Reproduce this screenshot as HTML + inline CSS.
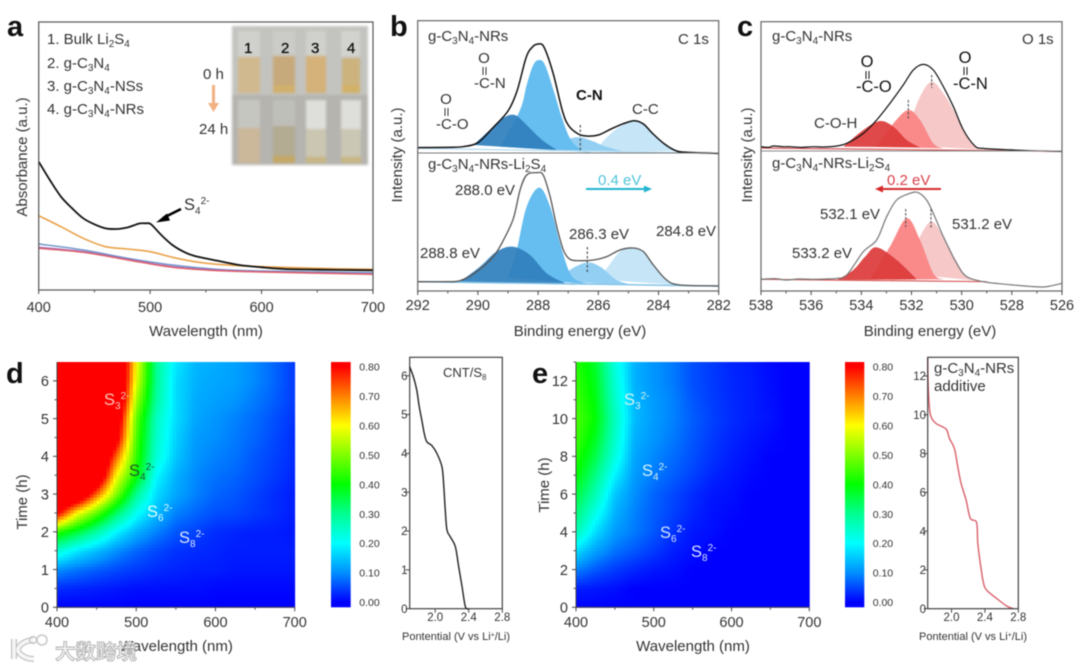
<!DOCTYPE html>
<html lang="en">
<head>
<meta charset="utf-8">
<title>Spectroscopy figure</title>
<style>
html,body{margin:0;padding:0;background:#fff;width:1080px;height:668px;overflow:hidden}
svg{display:block;filter:blur(.45px)}
text{font-family:"Liberation Sans",sans-serif;fill:#333}
.l{font-size:15px}
.t{font-size:15px}
.bold{font-size:29px;font-weight:bold;fill:#111}
.s{font-size:10px}
.h{font-size:16.5px}
</style>
</head>
<body>
<svg id="fig" xmlns="http://www.w3.org/2000/svg" width="1080" height="668" viewBox="0 0 1080 668">
<rect width="1080" height="668" fill="#fff"/>

<g id="pa"></g>
<g id="pb"></g>
<g id="pc"></g>
<g id="pd"></g>
<g id="pe"></g>

<g style="filter:blur(1.2px)">
<rect x="232" y="26" width="136" height="69" fill="#c3c3bf"/>
<rect x="232" y="95" width="136" height="70" fill="#b5b4af"/>
<rect x="238" y="31" width="22" height="26" fill="#d0d0cc"/><rect x="273" y="31" width="22" height="26" fill="#cbcbc7"/><rect x="306" y="31" width="20" height="26" fill="#d0d0cc"/><rect x="341" y="31" width="19" height="26" fill="#d2d2ce"/>
<rect x="238" y="57" width="22" height="36" fill="#d1b98f"/>
<rect x="273" y="56" width="22" height="37" fill="#c7aa7c"/>
<rect x="306" y="56" width="20" height="37" fill="#d4b27a"/>
<rect x="342" y="58" width="18" height="35" fill="#ccb37e"/>
<rect x="273" y="85" width="22" height="8" fill="#d0b06c"/><rect x="342" y="85" width="18" height="8" fill="#d2b268"/>
<rect x="238" y="100" width="22" height="28" fill="#c6c6c0"/><rect x="273" y="100" width="22" height="26" fill="#bfbfb9"/><rect x="306" y="100" width="20" height="29" fill="#dededa"/><rect x="341" y="100" width="20" height="29" fill="#dededa"/>
<rect x="238" y="128" width="22" height="35" fill="#cbb79a"/>
<rect x="273" y="126" width="22" height="37" fill="#b3ab92"/>
<rect x="273" y="156" width="22" height="7" fill="#c4a866"/>
<rect x="306" y="129" width="20" height="34" fill="#cac6b2"/>
<rect x="306" y="157" width="20" height="6" fill="#c8b684"/>
<rect x="341" y="129" width="20" height="34" fill="#cac7b4"/>
<rect x="341" y="157" width="20" height="6" fill="#c8b684"/>
</g>
<g>
<text x="244" y="53" style="font-size:15px;fill:#111;stroke:#111;stroke-width:.3">1</text>
<text x="281" y="53" style="font-size:15px;fill:#111;stroke:#111;stroke-width:.3">2</text>
<text x="311" y="53" style="font-size:15px;fill:#111;stroke:#111;stroke-width:.3">3</text>
<text x="347" y="53" style="font-size:15px;fill:#111;stroke:#111;stroke-width:.3">4</text>
</g>

<!-- panel letters -->
<text class="bold" x="7" y="36">a</text>
<text class="bold" x="390" y="36">b</text>
<text class="bold" x="737" y="36">c</text>
<text class="bold" x="6" y="383">d</text>
<text class="bold" x="532" y="383">e</text>

<!-- panel a annotations -->
<g>
<text class="l" x="47" y="44">1. Bulk Li<tspan class="s" dy="3">2</tspan><tspan dy="-3">S</tspan><tspan class="s" dy="3">4</tspan></text>
<text class="l" x="47" y="68">2. g-C<tspan class="s" dy="3">3</tspan><tspan dy="-3">N</tspan><tspan class="s" dy="3">4</tspan></text>
<text class="l" x="47" y="91">3. g-C<tspan class="s" dy="3">3</tspan><tspan dy="-3">N</tspan><tspan class="s" dy="3">4</tspan><tspan dy="-3">-NSs</tspan></text>
<text class="l" x="47" y="114">4. g-C<tspan class="s" dy="3">3</tspan><tspan dy="-3">N</tspan><tspan class="s" dy="3">4</tspan><tspan dy="-3">-NRs</tspan></text>
</g>
<text class="l" x="203" y="79">0 h</text>
<text class="l" x="199" y="134">24 h</text>
<path d="M212 85h3v18h4l-5.5 9-5.5-9h4z" fill="#f2b183"/>
<text class="h" x="184" y="210">S<tspan class="s" dy="4">4</tspan><tspan class="s" dy="-10">2-</tspan></text>
<path d="M181 209L163 218" stroke="#000" stroke-width="2.6" fill="none"/>
<path d="M156 222.5L167 213.5L170 220.5z" fill="#000"/>
<text class="t" x="0" y="0" text-anchor="middle" transform="translate(27 157) rotate(-90)">Absorbance (a.u.)</text>
<text class="t" x="206" y="336" text-anchor="middle">Wavelength (nm)</text>

<!-- panel b annotations -->
<text class="l" x="428" y="41">g-C<tspan class="s" dy="3">3</tspan><tspan dy="-3">N</tspan><tspan class="s" dy="3">4</tspan><tspan dy="-3">-NRs</tspan></text>
<text class="l" x="678" y="44">C 1s</text>
<g>
<text class="l" x="484" y="63" text-anchor="middle">O</text><path d="M483 67v8M486 67v8" stroke="#333" fill="none"/>
<text class="l" x="474" y="88">-C-N</text></g>
<g>
<text class="l" x="446" y="104" text-anchor="middle">O</text><path d="M445 108v8M448 108v8" stroke="#333" fill="none"/>
<text class="l" x="436" y="129">-C-O</text></g>
<text class="l" x="576" y="100" style="font-weight:bold;fill:#111">C-N</text>
<text class="l" x="632" y="114">C-C</text>
<text class="l" x="428" y="169">g-C<tspan class="s" dy="3">3</tspan><tspan dy="-3">N</tspan><tspan class="s" dy="3">4</tspan><tspan dy="-3">-NRs-Li</tspan><tspan class="s" dy="3">2</tspan><tspan dy="-3">S</tspan><tspan class="s" dy="3">4</tspan></text>
<text class="l" x="455" y="195">288.0 eV</text>
<text class="l" x="598" y="185" style="fill:#4dc4d8">0.4 eV</text>
<path d="M586 189H646" stroke="#21b4cf" stroke-width="2" fill="none"/>
<path d="M652 189l-8-3.5v7z" fill="#21b4cf"/>
<text class="l" x="569" y="239">286.3 eV</text>
<text class="l" x="656" y="236">284.8 eV</text>
<text class="l" x="420" y="258">288.8 eV</text>
<text class="t" x="0" y="0" text-anchor="middle" transform="translate(402 155) rotate(-90)">Intensity (a.u.)</text>
<text class="t" x="580" y="336" text-anchor="middle">Binding energy (eV)</text>

<!-- panel c annotations -->
<text class="l" x="772" y="41">g-C<tspan class="s" dy="3">3</tspan><tspan dy="-3">N</tspan><tspan class="s" dy="3">4</tspan><tspan dy="-3">-NRs</tspan></text>
<text class="l" x="1022" y="44">O 1s</text>
<g>
<text class="h" x="867" y="67" text-anchor="middle" style="fill:#111">O</text><path d="M866 71v8M869 71v8" stroke="#111" fill="none"/>
<text class="h" x="856" y="92" style="fill:#111">-C-O</text></g>
<g>
<text class="h" x="965" y="63" text-anchor="middle" style="fill:#111">O</text><path d="M964 67v8M967 67v8" stroke="#111" fill="none"/>
<text class="h" x="953" y="89" style="fill:#111">-C-N</text></g>
<text class="l" x="814" y="128">C-O-H</text>
<text class="l" x="772" y="168">g-C<tspan class="s" dy="3">3</tspan><tspan dy="-3">N</tspan><tspan class="s" dy="3">4</tspan><tspan dy="-3">-NRs-Li</tspan><tspan class="s" dy="3">2</tspan><tspan dy="-3">S</tspan><tspan class="s" dy="3">4</tspan></text>
<text class="l" x="887" y="185" style="fill:#d8404a">0.2 eV</text>
<path d="M941 189H881" stroke="#d42b2b" stroke-width="2" fill="none"/>
<path d="M875 189l8-3.5v7z" fill="#d42b2b"/>
<text class="l" x="820" y="219">532.1 eV</text>
<text class="l" x="952" y="229">531.2 eV</text>
<text class="l" x="792" y="258">533.2 eV</text>
<text class="t" x="0" y="0" text-anchor="middle" transform="translate(752 155) rotate(-90)">Intensity (a.u.)</text>
<text class="t" x="930" y="336" text-anchor="middle">Binding energy (eV)</text>

<!-- panel d text -->
<text class="t" x="0" y="0" text-anchor="middle" transform="translate(27 502) rotate(-90)">Time (h)</text>
<text class="t" x="176" y="651" text-anchor="middle">Wavelength (nm)</text>
<text class="h" x="104" y="405" style="fill:#f7c8b8">S<tspan class="s" dy="4">3</tspan><tspan class="s" dy="-10">2-</tspan></text>
<text class="h" x="129" y="476" style="fill:#1d5a2d">S<tspan class="s" dy="4">4</tspan><tspan class="s" dy="-10">2-</tspan></text>
<text class="h" x="147" y="517" style="fill:#dff">S<tspan class="s" dy="4">6</tspan><tspan class="s" dy="-10">2-</tspan></text>
<text class="h" x="179" y="543" style="fill:#dde6ff">S<tspan class="s" dy="4">8</tspan><tspan class="s" dy="-10">2-</tspan></text>
<text x="443" y="377" style="font-size:13px">CNT/S<tspan dy="3" style="font-size:8px">8</tspan></text>
<text x="456" y="640" text-anchor="middle" style="font-size:11px">Pontential (V vs Li<tspan dy="-3" style="font-size:7px">+</tspan><tspan dy="3">/Li)</tspan></text>

<!-- panel e text -->
<text class="t" x="0" y="0" text-anchor="middle" transform="translate(549 485) rotate(-90)">Time (h)</text>
<text class="t" x="693" y="651" text-anchor="middle">Wavelength (nm)</text>
<text class="h" x="624" y="405" style="fill:#d5f4f4">S<tspan class="s" dy="4">3</tspan><tspan class="s" dy="-10">2-</tspan></text>
<text class="h" x="642" y="476" style="fill:#d5f4f4">S<tspan class="s" dy="4">4</tspan><tspan class="s" dy="-10">2-</tspan></text>
<text class="h" x="660" y="538" style="fill:#d8e4ff">S<tspan class="s" dy="4">6</tspan><tspan class="s" dy="-10">2-</tspan></text>
<text class="h" x="691" y="557" style="fill:#d8e4ff">S<tspan class="s" dy="4">8</tspan><tspan class="s" dy="-10">2-</tspan></text>
<text x="934" y="373" style="font-size:15px">g-C<tspan class="s" dy="3">3</tspan><tspan dy="-3">N</tspan><tspan class="s" dy="3">4</tspan><tspan dy="-3">-NRs</tspan></text>
<text x="934" y="391" style="font-size:15px">additive</text>
<text x="973" y="640" text-anchor="middle" style="font-size:11px">Pontential (V vs Li<tspan dy="-3" style="font-size:7px">+</tspan><tspan dy="3">/Li)</tspan></text>

<!-- watermark -->
<g opacity=".9">
<path d="M14 639v20M33 640c-11 1-15 7-15 10s6 9 16 9" stroke="#bcbcbc" stroke-width="6" fill="none"/>
<path d="M14 639v20M33 640c-11 1-15 7-15 10s6 9 16 9" stroke="#f6f6f6" stroke-width="3.5" fill="none"/>
<circle cx="33" cy="640" r="3.5" fill="none" stroke="#c4c4c4" stroke-width="1.6"/>
<circle cx="42" cy="640" r="5" fill="none" stroke="#c4c4c4" stroke-width="1.6"/>
<text x="55" y="659" stroke="#aaa" stroke-width=".9" style='font-family:"Liberation Sans","Noto Sans CJK SC",sans-serif;font-size:20.5px;font-weight:bold;fill:#f0f0f0'>大数跨境</text>
</g>
</svg>

<script>
// ---------- Panel a: absorbance spectra ----------
const aBlackWl=[400,410,420,430,440,450,460,470,480,487,491,495,500,505,510,520,530,540,560,580,600,620,650,700];
const aBlackAbs=[385,330,280,245,215,197,185,183,188,196,200,200,199,183,165,135,115,102,88,75,68,63,61,59];
const aOrangeWl=[400,420,440,460,480,500,520,540,560,600,650,700];
const aOrangeAbs=[223,190,155,130,123,115,98,85,77,70,65,62];
const aOtherWl=[400,440,480,520,560,600,700];
const aBlueAbs=[138,120,95,75,62,57,52];
const aPurpleAbs=[128,115,92,70,60,55,48];
const aRedAbs=[125,113,90,68,58,54,47];
const aXTicks=[400,500,600,700];
const aXMinor=[450,550,650];

// ---------- Panel b: C 1s ----------
const bTopEnvE=[292,291,290.5,290,289.5,289,288.7,288.4,288.2,288,287.8,287.5,287.2,287,286.7,286.4,286,285.6,285.2,284.8,284.5,284.2,283.8,283.4,283,282];
const bTopEnvI=[430,431,433,445,490,540,600,700,731,741,731,653,543,498,473,465,468,485,501,511,501,473,441,420,416,413];
const bTopDarkE=[290.15,289.49,289.15,288.77,288.38,288.05,287.75,287.38];
const bTopDarkI=[438,493,520,528,498,468,445,423];
const bTopLightE=[289.26,288.6,288.38,288.16,287.96,287.77,287.49,287.22,286.94,286.6,286.2];
const bTopLightI=[433,543,618,678,693,678,603,523,458,425,415];
const bTopMidE=[287.5,287,286.6,286.2,285.8,285.2,284.8];
const bTopMidI=[425,455,461,450,435,420,415];
const bTopPaleE=[286.4,286,285.7,285.3,284.8,284.5,284.2,283.8,283.4];
const bTopPaleI=[418,435,463,492,511,501,473,441,420];
const bBotEnvE=[292,291.04,290.59,290.04,289.49,289.15,288.82,288.6,288.38,288.05,287.83,287.6,287.38,287.16,286.94,286.61,286.16,285.72,285.28,284.84,284.5,284.17,283.73,283.28,282];
const bBotEnvI=[28,28,31,58,103,153,218,303,348,355,348,283,193,123,95,91,93,103,123,129,118,78,33,18,15];
const bBotDarkE=[290.59,289.93,289.38,288.85,288.27,287.71,287.05,286.5];
const bBotDarkI=[28,73,118,133,108,53,23,18];
const bBotLightE=[289,288.71,288.38,287.96,287.6,287.27,286.94,286.61,286.2];
const bBotLightI=[40,123,253,310,253,143,53,28,20];
const bBotMidE=[287.3,286.94,286.39,285.94,285.39,284.84];
const bBotMidI=[28,63,85,73,33,18];
const bBotPaleE=[286.05,285.72,285.28,284.84,284.5,284.17,283.73,283.28];
const bBotPaleI=[35,68,118,129,118,78,33,18];
const bXTicks=[292,290,288,286,284,282];
const bXMinor=[291,289,287,285,283];

// ---------- Panel c: O 1s ----------
const cTopEnvE=[538,537.7,537.51,537.1,536.84,536.4,535.91,535.5,534.98,534.58,533.92,533.39,532.86,532.33,531.93,531.53,531.13,530.73,530.33,529.93,529.47,529.14,528.5,527.94,527.3,526.6,526];
const cTopEnvI=[433,431,435,433,433,431,433,432,435,443,473,513,563,618,663,680,663,613,553,483,435,428,425,423,421,420,419];
const cTopDarkE=[534.72,533.92,533.26,532.72,532.19,531.66];
const cTopDarkI=[433,483,510,493,453,431];
const cTopMidE=[533.39,532.72,532.13,531.66,531.13,530.73];
const cTopMidI=[433,503,543,513,443,428];
const cTopPaleE=[532.59,532.19,531.66,531.2,530.73,530.33,529.93,529.47,529];
const cTopPaleI=[438,483,583,628,593,543,483,433,424];
const cBotEnvE=[538,537.4,537,536.5,535.91,535.4,534.98,534.58,533.92,533.39,532.99,532.59,532.06,531.73,531.4,531.13,530.73,530.2,529.8,529.14,528.5,527.94,527.3,526.74,526.4,526];
const cBotEnvI=[35,37,33,36,35,36,38,48,118,153,223,273,293,295,273,233,163,83,43,28,22,18,14,12,16,23];
const cBotDarkE=[534.98,534.32,533.85,533.39,532.59,531.79];
const cBotDarkI=[33,63,103,131,93,35];
const cBotMidE=[533.65,532.86,532.19,531.66,531.13,530.73];
const cBotMidI=[35,133,218,153,53,35];
const cBotPaleE=[532.33,531.66,531.2,530.73,530.2,529.8,529.4];
const cBotPaleI=[53,163,208,163,88,43,31];
const cXTicks=[538,536,534,532,530,528,526];
const cXMinor=[537,535,533,531,529,527];

// ---------- Panels d, e: heatmaps ----------
const hmWavelengths=[400,425,450,475,500,525,550,575,600,625,650,675,700];
const dTimes=[0,0.5,1,1.5,2,2.5,3,3.5,4,4.5,5,5.5,6,6.5];
const dMatrix=[
[0,0,0,0,0,0,0,0,0,0,0,0,0],
[.03,.025,.02,.015,.01,.01,.01,.01,.005,.005,.005,.005,.005],
[.10,.08,.065,.05,.04,.03,.025,.02,.02,.015,.015,.015,.015],
[.24,.18,.14,.10,.07,.05,.035,.03,.025,.02,.02,.02,.02],
[.43,.36,.28,.19,.13,.09,.06,.045,.03,.025,.02,.02,.015],
[.82,.60,.47,.33,.21,.14,.09,.07,.055,.05,.04,.03,.02],
[1,.95,.72,.50,.30,.17,.12,.09,.07,.06,.045,.03,.02],
[1,1,.95,.60,.41,.20,.13,.095,.08,.07,.055,.04,.025],
[1,1,1,.72,.44,.24,.15,.105,.09,.08,.06,.045,.03],
[1,1,1,.85,.46,.25,.16,.11,.10,.085,.07,.05,.03],
[1,1,1,.90,.48,.26,.17,.12,.105,.09,.075,.055,.035],
[1,1,1,.98,.53,.29,.17,.125,.115,.105,.085,.065,.04],
[1,1,1,1,.58,.30,.17,.13,.12,.115,.095,.07,.04],
[1,1,1,1,.60,.30,.18,.135,.125,.115,.095,.07,.04]];
const eTimes=[0,1,2,3,4,5,6,7,8,9,10,11,12,13];
const eMatrix=[
[0,0,0,0,0,0,0,0,0,0,0,0,0],
[.02,.015,.01,0,0,0,0,0,0,0,0,0,0],
[.09,.06,.04,.025,.015,.01,0,0,0,0,0,0,0],
[.17,.115,.08,.06,.04,.02,.01,0,0,0,0,0,0],
[.27,.17,.11,.085,.06,.035,.015,.01,0,0,0,0,0],
[.32,.22,.13,.09,.065,.045,.025,.012,.005,0,0,0,0],
[.36,.27,.15,.10,.07,.05,.03,.015,.01,0,0,0,0],
[.40,.31,.19,.11,.085,.065,.045,.025,.015,.005,0,0,0],
[.43,.35,.23,.12,.095,.075,.055,.035,.02,.01,0,0,0],
[.45,.38,.25,.13,.105,.085,.06,.04,.025,.015,.006,0,0],
[.46,.40,.26,.14,.11,.09,.065,.045,.03,.02,.012,0,0],
[.45,.39,.25,.135,.11,.09,.06,.042,.028,.02,.01,0,0],
[.44,.38,.24,.13,.105,.085,.055,.04,.027,.02,.008,0,0],
[.43,.37,.23,.13,.105,.085,.055,.04,.025,.018,.006,0,0]];
const hmXTicks=[400,500,600,700];
const hmXMinor=[450,550,650];
const dYTicks=[0,1,2,3,4,5,6];
const dYMinor=[0.5,1.5,2.5,3.5,4.5,5.5];
const eYTicks=[0,2,4,6,8,10,12];
const eYMinor=[1,3,5,7,9,11,13];
const cbarTicks=[0,0.1,0.2,0.3,0.4,0.5,0.6,0.7,0.8];
const cmapValues=[0,0.1,0.2,0.3,0.4,0.5,0.6,0.7,0.8];
const cmapColors=[[0,0,255],[0,144,255],[0,255,255],[0,255,144],[0,255,0],[128,255,0],[255,255,0],[255,128,0],[255,0,0]];

// ---------- Insets: potential curves ----------
const dVolt=[1.696,1.74,1.78,1.81,1.84,1.87,1.90,1.96,2.02,2.08,2.10,2.12,2.14,2.18,2.24,2.28,2.32,2.36,2.40];
const dHours=[6.23,5.97,5.63,5.2,4.86,4.51,4.3,4.2,4.0,3.66,3.23,2.54,2.03,1.85,1.6,1.08,.57,.05,0];
const eVolt=[1.715,1.72,1.735,1.755,1.815,1.935,1.975,2.035,2.075,2.115,2.175,2.225,2.30,2.315,2.345,2.38,2.42,2.54,2.66,2.74];
const eHours=[12.96,11.6,10.4,9.9,9.55,9.26,8.78,8.26,7.32,6.46,5.6,4.66,4.45,3.37,2.34,1.39,.96,.53,.14,0];
const insetXTicks=[2.0,2.4,2.8];
const dInsetYTicks=[0,1,2,3,4,5,6];
const eInsetYTicks=[0,2,4,6,8,10,12];

const NS='http://www.w3.org/2000/svg';
function mk(parent,tag,attrs){
  const el=document.createElementNS(NS,tag);
  for(const k in attrs)el.setAttribute(k,attrs[k]);
  parent.appendChild(el);
  return el;
}
function linear(d0,d1,r0,r1){return v=>r0+(v-d0)*(r1-r0)/(d1-d0);}
function smooth(xs,ys,sx,sy){
  const p=xs.map((x,i)=>[sx(x),sy(ys[i])]);
  let d='M'+p[0][0].toFixed(2)+' '+p[0][1].toFixed(2);
  for(let i=0;i<p.length-1;i++){
    const a=p[Math.max(i-1,0)],b=p[i],c=p[i+1],e=p[Math.min(i+2,p.length-1)];
    const c1x=b[0]+(c[0]-a[0])/6,c1y=b[1]+(c[1]-a[1])/6,c2x=c[0]-(e[0]-b[0])/6,c2y=c[1]-(e[1]-b[1])/6;
    d+='C'+c1x.toFixed(2)+' '+c1y.toFixed(2)+' '+c2x.toFixed(2)+' '+c2y.toFixed(2)+' '+c[0].toFixed(2)+' '+c[1].toFixed(2);
  }
  return d;
}
function drawLine(g,xs,ys,sx,sy,color,width,name){
  const el=mk(g,'path',{d:smooth(xs,ys,sx,sy),fill:'none',stroke:color,'stroke-width':width});
  
  
  return el;
}
function drawPeak(g,xs,ys,sx,sy,color,op,name){
  const el=mk(g,'path',{d:smooth(xs,ys,sx,sy)+'Z',fill:color,'fill-opacity':op});
  
  
  return el;
}
function drawBox(g,x0,y0,x1,y1,color,w,name){
  const el=mk(g,'rect',{x:x0,y:y0,width:x1-x0,height:y1-y0,fill:'none',stroke:color,'stroke-width':w});
  
  
}
function xAxis(g,ticks,minor,sx,y0,labelY,fs,fmt){
  ticks.forEach(v=>{
    const t=mk(g,'line',{x1:sx(v),x2:sx(v),y1:y0,y2:y0+4,stroke:'#444','stroke-width':1});
    
    
    const l=mk(g,'text',{x:sx(v),y:labelY,'text-anchor':'middle',style:'font-size:'+fs+'px'});
    l.textContent=fmt?fmt(v):v;
    
    
  });
  minor.forEach(v=>{
    const t=mk(g,'line',{x1:sx(v),x2:sx(v),y1:y0,y2:y0+2.5,stroke:'#555','stroke-width':1});
    
    
  });
}
function yAxis(g,ticks,minor,sy,x0,labelX,fs){
  ticks.forEach(v=>{
    const t=mk(g,'line',{x1:x0-4,x2:x0,y1:sy(v),y2:sy(v),stroke:'#444','stroke-width':1});
    
    
    const l=mk(g,'text',{x:labelX,y:sy(v)+fs*0.36,'text-anchor':'end',style:'font-size:'+fs+'px'});
    l.textContent=v;
    
    
  });
  minor.forEach(v=>{
    const t=mk(g,'line',{x1:x0-2.5,x2:x0,y1:sy(v),y2:sy(v),stroke:'#555','stroke-width':1});
    
    
  });
}
function cmap(v){
  const n=cmapValues.length;
  if(v<=cmapValues[0])return cmapColors[0];
  if(v>=cmapValues[n-1])return cmapColors[n-1];
  let i=0;
  while(v>cmapValues[i+1])i++;
  const f=(v-cmapValues[i])/(cmapValues[i+1]-cmapValues[i]);
  return cmapColors[i].map((c,k)=>c+(cmapColors[i+1][k]-c)*f);
}
function css(c){return 'rgb('+c.map(Math.round).join(',')+')';}

// Panel a
(function(){
  const g=document.getElementById('pa');
  const sx=linear(400,700,38.7,373);
  const sy=linear(0,804,290,22);
  drawLine(g,aOtherWl,aBlueAbs,sx,sy,'#6f93c9',1.4,'series-g-c3n4');
  drawLine(g,aOtherWl,aPurpleAbs,sx,sy,'#a868b8',1.4,'series-nss');
  drawLine(g,aOtherWl,aRedAbs,sx,sy,'#e0606a',1.4,'series-nrs');
  drawLine(g,aOrangeWl,aOrangeAbs,sx,sy,'#e9a24a',1.6,'series-orange');
  drawLine(g,aBlackWl,aBlackAbs,sx,sy,'#111',1.8,'series-bulk-li2s4');
  drawBox(g,38.7,22,373,290,'#555',1.2,'plot-frame-a');
  xAxis(g,aXTicks,aXMinor,sx,290,312,14.5);
})();

// Panel b
(function(){
  const g=document.getElementById('pb');
  const sx=linear(292,282,417.7,718.7);
  const sy=linear(0,811,291,20.7);
  const dark='#2f7fbd',light='#66bdef',mid='#93cff3',pale='#c6e6f8';
  drawPeak(g,bTopPaleE,bTopPaleI,sx,sy,pale,1,'peak-top-c-c');
  drawPeak(g,bTopMidE,bTopMidI,sx,sy,mid,1,'peak-top-c-n');
  drawPeak(g,bTopLightE,bTopLightI,sx,sy,light,1,'peak-top-n-c-o');
  drawPeak(g,bTopDarkE,bTopDarkI,sx,sy,dark,.92,'peak-top-c-o');
  drawLine(g,[292,282],[428,413],sx,sy,'#bcdff1',1.4,'baseline-top');
  drawLine(g,bTopEnvE,bTopEnvI,sx,sy,'#111',1.5,'envelope-top');
  drawPeak(g,bBotPaleE,bBotPaleI,sx,sy,pale,1,'peak-bottom-c-c');
  drawPeak(g,bBotMidE,bBotMidI,sx,sy,mid,1,'peak-bottom-c-n');
  drawPeak(g,bBotLightE,bBotLightI,sx,sy,light,1,'peak-bottom-n-c-o');
  drawPeak(g,bBotDarkE,bBotDarkI,sx,sy,dark,.92,'peak-bottom-c-o');
  drawLine(g,[292,282],[28,15],sx,sy,'#7fc0e6',1.4,'baseline-bottom');
  drawLine(g,bBotEnvE,bBotEnvI,sx,sy,'#555',1.3,'envelope-bottom');
  const sep=mk(g,'line',{x1:417.7,x2:718.7,y1:153,y2:153,stroke:'#777','stroke-width':1});
  
  
  const dash1=mk(g,'line',{x1:580.3,x2:580.3,y1:125,y2:150,stroke:'#333','stroke-width':1,'stroke-dasharray':'2.5 2'});
  
  
  const dash2=mk(g,'line',{x1:587.3,x2:587.3,y1:247,y2:272,stroke:'#333','stroke-width':1,'stroke-dasharray':'2.5 2'});
  
  
  drawBox(g,417.7,20.7,718.7,291,'#666',1.2,'plot-frame-b');
  xAxis(g,bXTicks,bXMinor,sx,291,310,14.5);
})();

// Panel c
(function(){
  const g=document.getElementById('pc');
  const sx=linear(538,526,761,1062);
  const sy=linear(0,808,291,21.7);
  const dark='#dc3a3a',mid='#fa8a8a',pale='#f6c8c8';
  drawPeak(g,cTopPaleE,cTopPaleI,sx,sy,pale,1,'peak-top-531');
  drawPeak(g,cTopMidE,cTopMidI,sx,sy,mid,1,'peak-top-532');
  drawPeak(g,cTopDarkE,cTopDarkI,sx,sy,dark,.92,'peak-top-533');
  drawLine(g,[538,526],[429,419],sx,sy,'#d85a5a',1.2,'baseline-top');
  drawLine(g,cTopEnvE,cTopEnvI,sx,sy,'#111',1.2,'envelope-top');
  drawPeak(g,cBotPaleE,cBotPaleI,sx,sy,pale,1,'peak-bottom-531');
  drawPeak(g,cBotMidE,cBotMidI,sx,sy,mid,1,'peak-bottom-532');
  drawPeak(g,cBotDarkE,cBotDarkI,sx,sy,dark,.92,'peak-bottom-533');
  drawLine(g,[538,529],[35,28],sx,sy,'#d85a5a',1.2,'baseline-bottom');
  drawLine(g,cBotEnvE,cBotEnvI,sx,sy,'#777',1.2,'envelope-bottom');
  const sep=mk(g,'line',{x1:761,x2:1062,y1:151,y2:151,stroke:'#888','stroke-width':1});
  
  
  [[931.7,75,88],[908.3,100,119],[905.7,209,227],[931,209,228]].forEach(m=>{
    const el=mk(g,'line',{x1:m[0],x2:m[0],y1:m[1],y2:m[2],stroke:'#444','stroke-width':1,'stroke-dasharray':'2.5 1.5'});
    
    
  });
  drawBox(g,761,21.7,1062,291,'#666',1.2,'plot-frame-c');
  xAxis(g,cXTicks,cXMinor,sx,291,310,14.5);
})();

// Heatmaps: each read node interval is shaded bilinearly for a smooth fill
function heatmap(g,matrix,times,x0,x1,y0,y1){
  const sx=linear(400,700,x0,x1);
  const sy=linear(times[0],times[times.length-1],y0,y1);
  const N=6;
  for(let r=0;r<times.length-1;r++){
    for(let c=0;c<hmWavelengths.length-1;c++){
      const a=matrix[r][c],b=matrix[r][c+1],d=matrix[r+1][c],e=matrix[r+1][c+1];
      const xa=sx(hmWavelengths[c]),xb=sx(hmWavelengths[c+1]);
      const ya=sy(times[r]),yb=sy(times[r+1]);
      for(let i=0;i<N;i++){
        for(let j=0;j<N;j++){
          const fx=(i+.5)/N,fy=(j+.5)/N;
          const v=(a*(1-fx)+b*fx)*(1-fy)+(d*(1-fx)+e*fx)*fy;
          const rc=mk(g,'rect',{
            x:(xa+(xb-xa)*i/N).toFixed(2),
            y:(ya+(yb-ya)*(j+1)/N).toFixed(2),
            width:((xb-xa)/N+.4).toFixed(2),
            height:((ya-yb)/N+.4).toFixed(2),
            fill:css(cmap(v))
          });
          
          
        }
      }
    }
  }
}
function colorbar(g,id,x,w,labelX){
  const top=362,bot=607.3,y08=366.7,y00=602;
  const sv=linear(0,0.8,y00,y08);
  const defs=mk(g,'defs',{});
  const grad=mk(defs,'linearGradient',{id:id,x1:0,x2:0,y1:0,y2:1});
  cmapValues.slice().reverse().forEach((v,i)=>{
    mk(grad,'stop',{offset:((sv(v)-top)/(bot-top)).toFixed(4),'stop-color':css(cmap(v))});
  });
  const bar=mk(g,'rect',{x:x,y:top,width:w,height:bot-top,fill:'url(#'+id+')'});
  
  
  cbarTicks.forEach(v=>{
    const l=mk(g,'text',{x:labelX,y:sv(v)+4,style:'font-size:10.5px'});
    l.textContent=v.toFixed(2);
    
    
  });
}
// Panel d
(function(){
  const g=document.getElementById('pd');
  heatmap(g,dMatrix,dTimes,57,294.7,607.3,362);
  const ax=mk(g,'path',{d:'M57 362V607.3H294.7',fill:'none',stroke:'#444','stroke-width':1});
  
  
  xAxis(g,hmXTicks,hmXMinor,linear(400,700,57,294.7),607.3,627,14.5);
  yAxis(g,dYTicks,dYMinor,linear(0,6.5,607.3,362),57,49,14.5);
  colorbar(g,'cbd',331,19.7,359.3);
  const sx=linear(1.696,2.8,409.7,502.3),sy=linear(0,6,608.7,375.7);
  drawLine(g,dVolt,dHours,sx,sy,'#222',1.4,'potential-curve-d');
  drawBox(g,409.7,357.3,502.3,608.7,'#333',1.1,'inset-frame-d');
  xAxis(g,insetXTicks,[],sx,608.7,621,11.5,v=>v.toFixed(1));
  yAxis(g,dInsetYTicks,[],sy,409.7,407.5,11.5);
})();
// Panel e
(function(){
  const g=document.getElementById('pe');
  heatmap(g,eMatrix,eTimes,576,809.3,607.3,362);
  const ax=mk(g,'path',{d:'M576 362V607.3H809.3',fill:'none',stroke:'#444','stroke-width':1});
  
  
  xAxis(g,hmXTicks,hmXMinor,linear(400,700,576,809.3),607.3,627,14.5);
  yAxis(g,eYTicks,eYMinor,linear(0,13,607.3,362),576,568,14.5);
  colorbar(g,'cbe',845,19.3,872.7);
  const sx=linear(1.715,2.8,927.7,1018.3),sy=linear(0,12,608.7,376);
  drawLine(g,eVolt,eHours,sx,sy,'#d9606a',1.4,'potential-curve-e');
  drawBox(g,927.7,357.3,1018.3,608.7,'#333',1.1,'inset-frame-e');
  xAxis(g,insetXTicks,[],sx,608.7,621,11.5,v=>v.toFixed(1));
  yAxis(g,eInsetYTicks,[],sy,927.7,926,11.5);
})();
</script>
</body>
</html>
